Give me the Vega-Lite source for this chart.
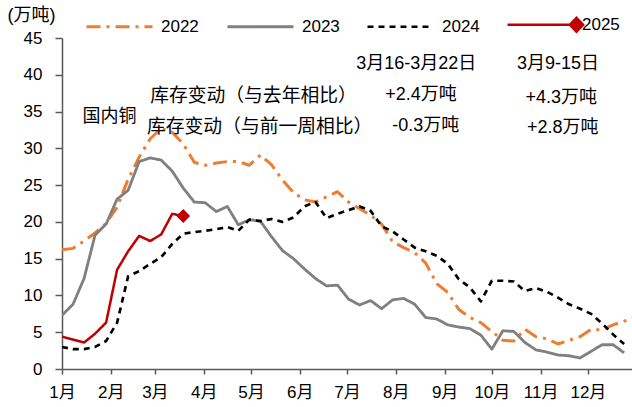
{
  "$schema": "https://vega.github.io/schema/vega-lite/v6.json",
  "width": 570,
  "height": 331,
  "autosize": {"type": "none"},
  "padding": {"left": 62, "top": 38, "right": 0, "bottom": 38},
  "background": "white",
  "config": {
    "view": {"stroke": null},
    "font": "Liberation Sans, Noto Sans CJK SC",
    "axis": {"grid": false, "domainColor": "#595959", "domainWidth": 1.5, "tickColor": "#595959", "tickWidth": 1.5, "labelColor": "#000000", "labelFont": "Liberation Sans, Noto Sans CJK SC", "labelFontSize": 17},
    "axisX": {"labelExpr": "utcFormat(datum.value, '%-m') + '月'", "labelFlush": false, "labelOverlap": false, "tickSize": 5, "labelPadding": 10}
  },
  "data": {
    "values": [
      {"d": "2023-01-01", "2022": 16.2, "2023": 7.3, "2024": 3.0, "2025": 4.4},
      {"d": "2023-01-08", "2022": 16.4, "2023": 8.8, "2024": 2.7, "2025": 4.0},
      {"d": "2023-01-15", "2022": 17.4, "2023": 12.3, "2024": 2.7, "2025": 3.6},
      {"d": "2023-01-22", "2022": 18.5, "2023": 18.2, "2024": 3.0, "2025": 4.8},
      {"d": "2023-01-29", "2022": 19.8, "2023": 19.7, "2024": 3.8, "2025": 6.3},
      {"d": "2023-02-05", "2022": 22.0, "2023": 23.1, "2024": 6.3, "2025": 13.5},
      {"d": "2023-02-12", "2022": 25.8, "2023": 24.3, "2024": 12.6, "2025": 16.0},
      {"d": "2023-02-19", "2022": 28.8, "2023": 28.2, "2024": 13.3, "2025": 18.1},
      {"d": "2023-02-26", "2022": 31.3, "2023": 28.7, "2024": 14.3, "2025": 17.4},
      {"d": "2023-03-05", "2022": 32.7, "2023": 28.4, "2024": 15.2, "2025": 18.3},
      {"d": "2023-03-12", "2022": 32.2, "2023": 26.9, "2024": 17.0, "2025": 21.1},
      {"d": "2023-03-19", "2022": 30.6, "2023": 24.6, "2024": 18.4, "2025": 20.8},
      {"d": "2023-03-26", "2022": 28.1, "2023": 22.7, "2024": 18.6},
      {"d": "2023-04-02", "2022": 27.7, "2023": 22.6, "2024": 18.8},
      {"d": "2023-04-09", "2022": 28.0, "2023": 21.4, "2024": 19.0},
      {"d": "2023-04-16", "2022": 28.2, "2023": 22.1, "2024": 19.3},
      {"d": "2023-04-23", "2022": 28.2, "2023": 19.6, "2024": 18.8},
      {"d": "2023-04-30", "2022": 27.7, "2023": 20.3, "2024": 20.3},
      {"d": "2023-05-07", "2022": 29.1, "2023": 20.1, "2024": 20.1},
      {"d": "2023-05-14", "2022": 27.8, "2023": 18.0, "2024": 20.4},
      {"d": "2023-05-21", "2022": 25.7, "2023": 16.1, "2024": 20.0},
      {"d": "2023-05-28", "2022": 24.0, "2023": 15.0, "2024": 20.6},
      {"d": "2023-06-04", "2022": 23.0, "2023": 13.6, "2024": 22.1},
      {"d": "2023-06-11", "2022": 22.7, "2023": 12.3, "2024": 22.7},
      {"d": "2023-06-18", "2022": 23.4, "2023": 11.3, "2024": 20.5},
      {"d": "2023-06-25", "2022": 24.1, "2023": 11.4, "2024": 21.1},
      {"d": "2023-07-02", "2022": 22.7, "2023": 9.5, "2024": 21.6},
      {"d": "2023-07-09", "2022": 21.8, "2023": 8.7, "2024": 22.1},
      {"d": "2023-07-16", "2022": 20.9, "2023": 9.3, "2024": 21.5},
      {"d": "2023-07-23", "2022": 19.7, "2023": 8.2, "2024": 19.4},
      {"d": "2023-07-30", "2022": 17.3, "2023": 9.4, "2024": 18.7},
      {"d": "2023-08-06", "2022": 16.5, "2023": 9.6, "2024": 17.6},
      {"d": "2023-08-13", "2022": 15.8, "2023": 8.8, "2024": 16.5},
      {"d": "2023-08-20", "2022": 14.4, "2023": 7.0, "2024": 16.0},
      {"d": "2023-08-27", "2022": 11.6, "2023": 6.8, "2024": 15.4},
      {"d": "2023-09-03", "2022": 10.4, "2023": 6.0, "2024": 14.3},
      {"d": "2023-09-10", "2022": 8.1, "2023": 5.7, "2024": 12.2},
      {"d": "2023-09-17", "2022": 7.0, "2023": 5.5, "2024": 11.1},
      {"d": "2023-09-24", "2022": 6.3, "2023": 4.6, "2024": 9.2},
      {"d": "2023-10-01", "2022": 5.1, "2023": 2.7, "2024": 12.0},
      {"d": "2023-10-08", "2022": 3.9, "2023": 5.2, "2024": 12.0},
      {"d": "2023-10-15", "2022": 3.8, "2023": 5.1, "2024": 11.9},
      {"d": "2023-10-22", "2022": 5.4, "2023": 3.6, "2024": 10.6},
      {"d": "2023-10-29", "2022": 4.4, "2023": 2.6, "2024": 11.0},
      {"d": "2023-11-05", "2022": 4.1, "2023": 2.3, "2024": 10.5},
      {"d": "2023-11-12", "2022": 3.4, "2023": 1.9, "2024": 9.7},
      {"d": "2023-11-19", "2022": 3.9, "2023": 1.8, "2024": 8.8},
      {"d": "2023-11-26", "2022": 4.4, "2023": 1.5, "2024": 8.2},
      {"d": "2023-12-03", "2022": 5.4, "2023": 2.4, "2024": 7.5},
      {"d": "2023-12-10", "2022": 5.3, "2023": 3.3, "2024": 6.2},
      {"d": "2023-12-17", "2022": 6.0, "2023": 3.3, "2024": 4.7},
      {"d": "2023-12-24", "2022": 6.5, "2023": 2.2, "2024": 3.4},
      {"d": "2023-12-31", "2022": 7.1}
    ]
  },
  "transform": [
    {"fold": ["2022", "2023", "2024", "2025"], "as": ["series", "value"]},
    {"filter": "isValid(datum.value)"}
  ],
  "encoding": {
    "x": {
      "field": "d", "type": "temporal",
      "scale": {"type": "utc", "domain": [{"year": 2023, "month": 1, "date": 1, "utc": true}, {"year": 2023, "month": 12, "date": 29, "utc": true}]},
      "axis": {"title": null, "labelExpr": "utcFormat(datum.value, '%-m') + '月'", "tickCount": {"interval": "month", "step": 1}, "tickSize": 5, "labelPadding": 10, "labelFlush": false, "labelOverlap": false}
    },
    "y": {
      "field": "value", "type": "quantitative",
      "scale": {"domain": [0, 45], "nice": false},
      "axis": {"values": [0, 5, 10, 15, 20, 25, 30, 35, 40, 45], "tickSize": 7, "labelPadding": 13, "title": "(万吨)", "titleAngle": 0, "titleAlign": "left", "titleBaseline": "middle", "titleX": -55, "titleY": -23, "titleFont": "Liberation Sans, Noto Sans CJK SC", "titleFontSize": 18, "titleFontWeight": "normal", "titleColor": "#000000"}
    }
  },
  "layer": [
    {
      "mark": {"type": "line", "strokeCap": "butt", "strokeJoin": "round", "clip": true},
      "encoding": {
        "color": {
          "field": "series", "type": "nominal",
          "scale": {"domain": ["2022", "2023", "2024", "2025"], "range": ["#ED7D31", "#808080", "#000000", "#C00000"]},
          "legend": {
            "orient": "none", "legendX": 23, "legendY": -48, "direction": "horizontal", "title": null,
            "symbolType": "stroke", "symbolSize": 4356, "labelFontSize": 17, "labelFont": "Liberation Sans", "labelColor": "#000000",
            "labelOffset": 7, "columnPadding": 22,
            "encode": {"symbols": {"update": {
              "shape": {"signal": "datum.value == '2025' ? 'M-1,0H1.09M1.09,-0.21L1.29,0L1.09,0.21L0.89,0Z' : 'stroke'"},
              "fill": {"signal": "datum.value == '2025' ? '#C00000' : 'transparent'"}
            }}}
          }
        },
        "strokeDash": {
          "field": "series", "type": "nominal",
          "scale": {"domain": ["2022", "2023", "2024", "2025"], "range": [[14, 6, 3, 6], [1, 0], [6, 5], [1, 0]]}
        },
        "strokeWidth": {
          "field": "series", "type": "nominal",
          "scale": {"domain": ["2022", "2023", "2024", "2025"], "range": [3, 2.5, 1.8, 3.5]}
        }
      }
    },
    {
      "transform": [
        {"filter": "datum.series == '2025'"},
        {"window": [{"op": "row_number", "as": "rn"}], "sort": [{"field": "d", "order": "descending"}]},
        {"filter": "datum.rn == 1"}
      ],
      "mark": {"type": "point", "shape": "diamond", "filled": true, "size": 190, "color": "#C00000", "opacity": 1}
    },
    {
      "transform": [
        {"filter": "datum.series == '2025'"},
        {"window": [{"op": "row_number", "as": "rn"}], "sort": [{"field": "d", "order": "descending"}]},
        {"filter": "datum.rn == 1"}
      ],
      "layer": [
        {"mark": {"type": "text", "align": "left", "baseline": "middle", "fontSize": 18, "fontWeight": "normal", "color": "#000000"},
         "encoding": {"x": {"datum": {"year": 2023, "month": 1, "date": 14, "utc": true}, "type": "temporal"}, "y": {"datum": 34.2}, "text": {"value": "国内铜"}}},
        {"mark": {"type": "text", "align": "left", "baseline": "middle", "fontSize": 18.8, "fontWeight": "normal", "color": "#000000"},
         "encoding": {"x": {"datum": {"year": 2023, "month": 2, "date": 26, "utc": true}, "type": "temporal"}, "y": {"datum": 37.1}, "text": {"value": "库存变动（与去年相比）"}}},
        {"mark": {"type": "text", "align": "left", "baseline": "middle", "fontSize": 18.8, "fontWeight": "normal", "color": "#000000"},
         "encoding": {"x": {"datum": {"year": 2023, "month": 2, "date": 24, "utc": true}, "type": "temporal"}, "y": {"datum": 32.9}, "text": {"value": "库存变动（与前一周相比）"}}},
        {"mark": {"type": "text", "align": "center", "baseline": "middle", "fontSize": 18, "fontWeight": "normal", "color": "#000000"},
         "encoding": {"x": {"datum": {"year": 2023, "month": 8, "date": 14, "utc": true}, "type": "temporal"}, "y": {"datum": 41.5}, "text": {"value": "3月16-3月22日"}}},
        {"mark": {"type": "text", "align": "center", "baseline": "middle", "fontSize": 18, "fontWeight": "normal", "color": "#000000"},
         "encoding": {"x": {"datum": {"year": 2023, "month": 11, "date": 12, "utc": true}, "type": "temporal"}, "y": {"datum": 41.4}, "text": {"value": "3月9-15日"}}},
        {"mark": {"type": "text", "align": "center", "baseline": "middle", "fontSize": 18, "fontWeight": "normal", "color": "#000000"},
         "encoding": {"x": {"datum": {"year": 2023, "month": 8, "date": 17, "utc": true}, "type": "temporal"}, "y": {"datum": 37.2}, "text": {"value": "+2.4万吨"}}},
        {"mark": {"type": "text", "align": "center", "baseline": "middle", "fontSize": 18, "fontWeight": "normal", "color": "#000000"},
         "encoding": {"x": {"datum": {"year": 2023, "month": 11, "date": 14, "utc": true}, "type": "temporal"}, "y": {"datum": 36.8}, "text": {"value": "+4.3万吨"}}},
        {"mark": {"type": "text", "align": "center", "baseline": "middle", "fontSize": 18, "fontWeight": "normal", "color": "#000000"},
         "encoding": {"x": {"datum": {"year": 2023, "month": 8, "date": 20, "utc": true}, "type": "temporal"}, "y": {"datum": 33.1}, "text": {"value": "-0.3万吨"}}},
        {"mark": {"type": "text", "align": "center", "baseline": "middle", "fontSize": 18, "fontWeight": "normal", "color": "#000000"},
         "encoding": {"x": {"datum": {"year": 2023, "month": 11, "date": 15, "utc": true}, "type": "temporal"}, "y": {"datum": 32.7}, "text": {"value": "+2.8万吨"}}}
      ]
    }
  ]
}
